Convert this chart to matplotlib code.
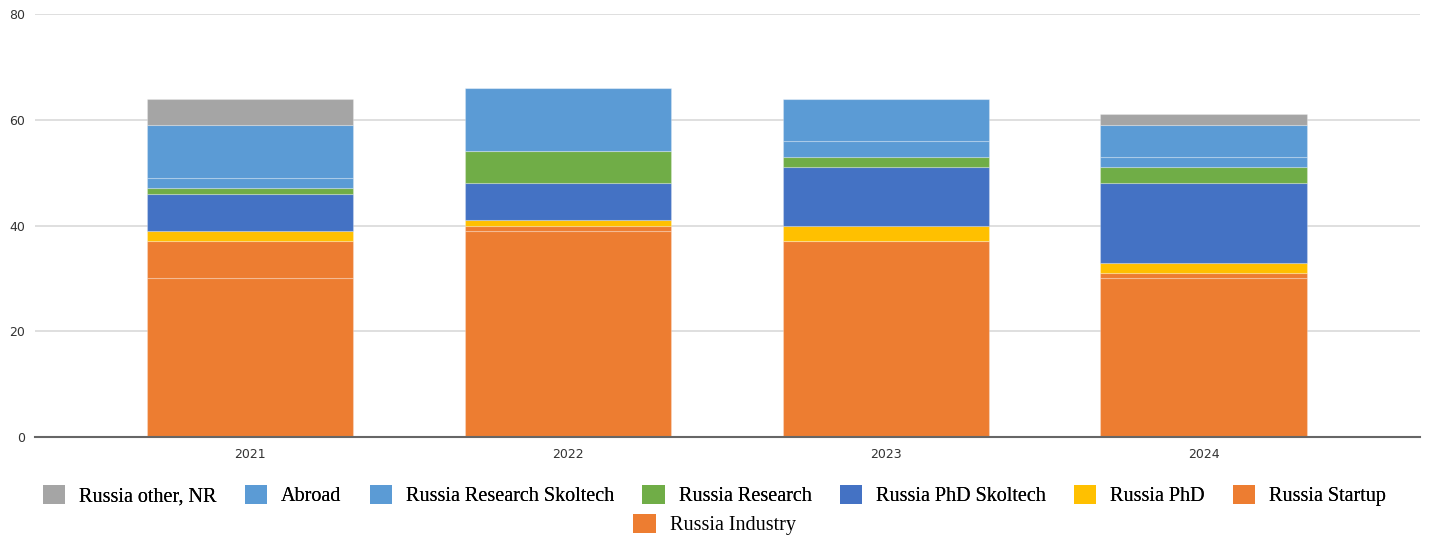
import matplotlib.pyplot as plt
import numpy as np
from matplotlib.patches import Patch

years = ['2021', '2022', '2023', '2024']

# segments, bottom to top
russia_industry = [30, 39, 37, 30]
russia_startup = [7, 1, 0, 1]
russia_phd = [2, 1, 3, 2]
russia_phd_skoltech = [7, 7, 11, 15]
russia_research = [1, 6, 2, 3]
russia_research_skoltech = [2, 0, 3, 2]
abroad = [10, 12, 8, 6]
russia_other = [5, 0, 0, 2]

series = [
    ('Russia Industry', russia_industry, '#ed7d31'),
    ('Russia Startup', russia_startup, '#ed7d31'),
    ('Russia PhD', russia_phd, '#ffc000'),
    ('Russia PhD Skoltech', russia_phd_skoltech, '#4472c4'),
    ('Russia Research', russia_research, '#70ad47'),
    ('Russia Research Skoltech', russia_research_skoltech, '#5b9bd5'),
    ('Abroad', abroad, '#5b9bd5'),
    ('Russia other, NR', russia_other, '#a5a5a5'),
]

fig = plt.figure(figsize=(14.29, 5.38), dpi=100)
ax = fig.add_axes([0.0245, 0.1877, 0.9692, 0.7863])

x = np.arange(len(years))
bottom = np.zeros(len(years))
for name, vals, col in series:
    vals = np.array(vals, dtype=float)
    ax.bar(x, vals, width=0.65, bottom=bottom, color=col,
           edgecolor=(1, 1, 1, 0.25), linewidth=0.8, zorder=3)
    bottom += vals

ax.set_ylim(0, 80)
ax.set_xlim(-0.676, 3.68)
ax.set_yticks([0, 20, 40, 60, 80])
ax.set_xticks(x)
ax.set_xticklabels(years)
ax.tick_params(length=0, labelsize=9, colors='#333333')
ax.tick_params(axis='y', pad=7)
ax.tick_params(axis='x', pad=8)
ax.grid(axis='y', color='#d9d9d9', linewidth=1.2, zorder=0)
for s in ['top', 'right', 'left']:
    ax.spines[s].set_visible(False)
ax.spines['bottom'].set_color('#666666')
ax.spines['bottom'].set_linewidth(1.5)
ax.spines['bottom'].set_zorder(4)

# legend: top series first, last one on its own row
handles = [Patch(facecolor=col, edgecolor='none', label=name) for name, _, col in series[::-1]]
font = {'family': 'Liberation Serif', 'size': 14.5}
opts = dict(frameon=False, prop=font, handlelength=1.1, handleheight=1.05,
            handletextpad=0.7, columnspacing=1.4, borderpad=0, borderaxespad=0)
leg1 = fig.legend(handles=handles[:7], loc='center', bbox_to_anchor=(0.5, 0.079),
                  ncol=7, **opts)
leg2 = fig.legend(handles=handles[7:], loc='center', bbox_to_anchor=(0.5, 0.025),
                  ncol=1, **opts)
fig.add_artist(leg1)

fig.savefig('out.png', dpi=100)
